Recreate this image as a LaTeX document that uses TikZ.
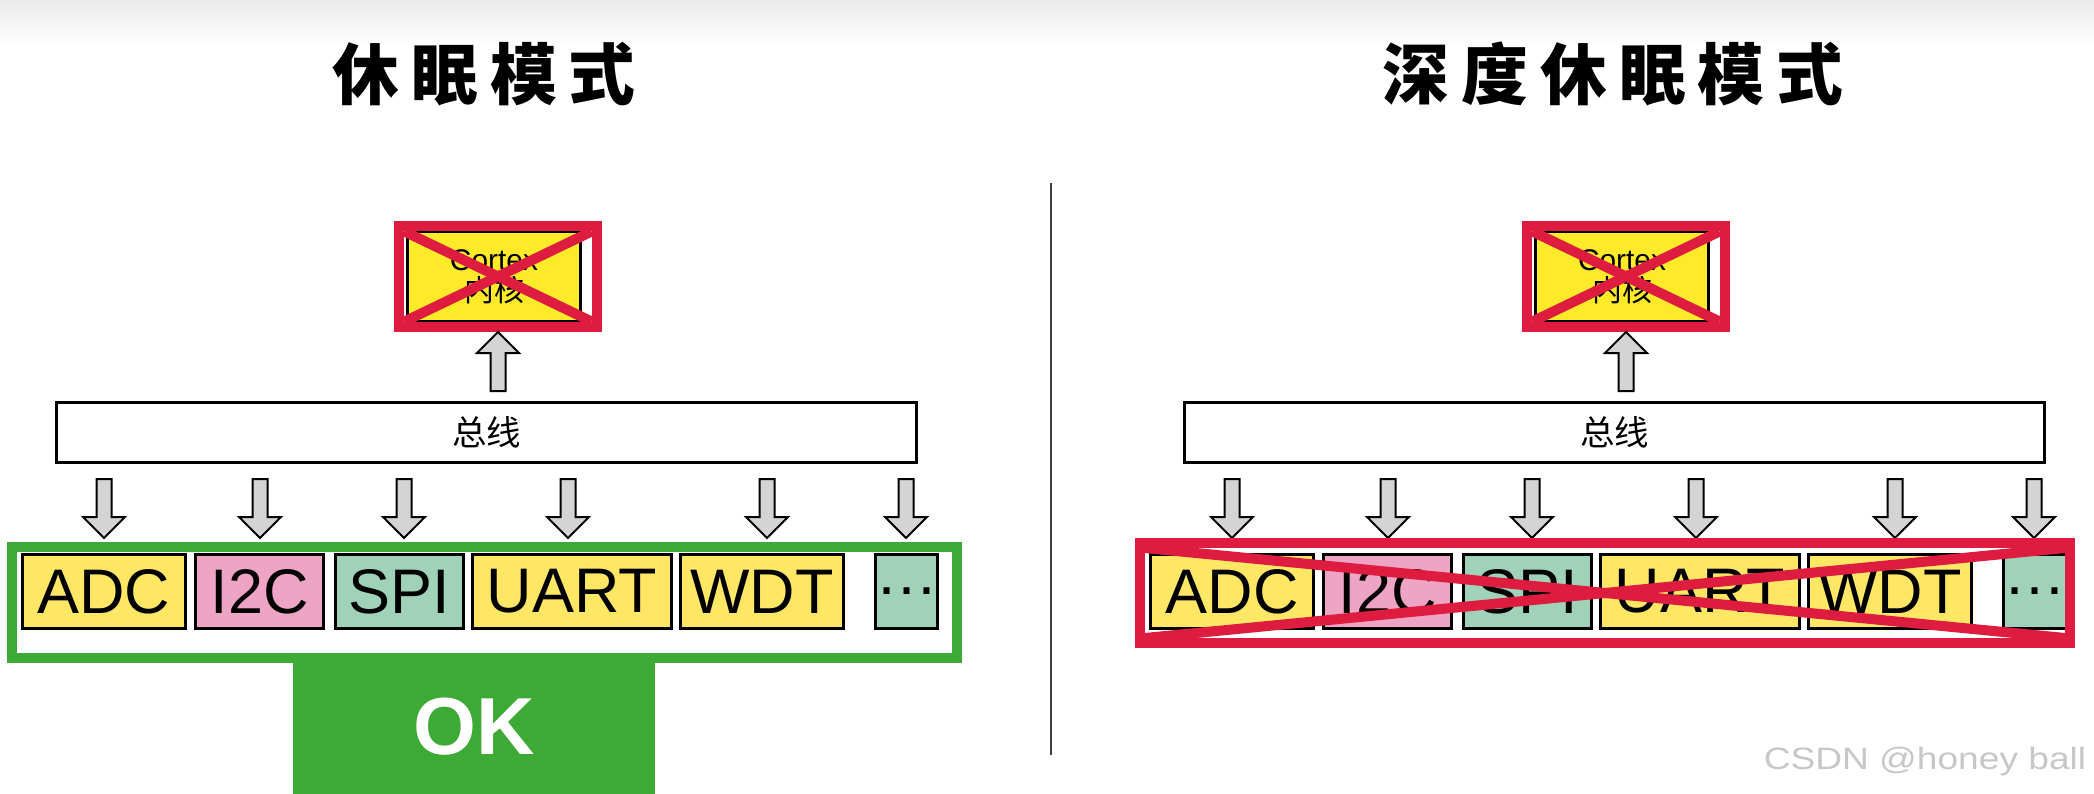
\documentclass[tikz,border=0pt]{standalone}
\usepackage{fontspec}
\setmainfont{Liberation Sans}
\newfontfamily\cjk{Noto Sans CJK SC}
\newfontfamily\cjktitle[LetterSpace=18]{Noto Sans CJK SC}
\usetikzlibrary{positioning}

\definecolor{coreyellow}{RGB}{255,234,42}
\definecolor{modyellow}{RGB}{255,231,102}
\definecolor{modpink}{RGB}{238,164,196}
\definecolor{modteal}{RGB}{160,210,186}
\definecolor{okgreen}{RGB}{62,170,54}
\definecolor{crossred}{RGB}{222,28,64}
\definecolor{arrowgray}{RGB}{212,212,212}

\begin{document}
\begin{tikzpicture}[x=0.01cm,y=-0.01cm,
    blockarrow/.pic={\draw[line width=0.02cm,fill=arrowgray] (-7.5,0) -- (7.5,0) -- (7.5,38) -- (21,38) -- (0,59) -- (-21,38) -- (-7.5,38) -- cycle;}]
  \tikzstyle{title}=[font=\cjktitle\bfseries\fontsize{19}{19}\selectfont]
  \tikzstyle{box}=[rectangle,draw,line width=0.03cm,inner sep=0pt,outer sep=0pt]
  \tikzstyle{module}=[box,minimum height=0.73cm,font=\fontsize{17.9}{18}\selectfont]
  \tikzstyle{bus}=[box,minimum width=8.59cm,minimum height=0.59cm,font=\cjk\fontsize{9.8}{10}\selectfont]
  \tikzstyle{core}=[box,fill=coreyellow,minimum width=1.72cm,minimum height=0.89cm,align=center,font=\fontsize{8.5}{8.8}\selectfont]
  \tikzstyle{frame}=[rectangle,draw,line width=0.1cm,outer sep=0pt,inner sep=0pt]
  \tikzstyle{cross}=[line width=0.1cm,color=crossred]

  \useasboundingbox (0,0) rectangle (2094,794);
  \fill[white] (0,0) rectangle (2094,794);
  \shade[top color=black!8,bottom color=white] (0,0) rectangle (2094,45);

  \node[title] (ltitle) at (484,74) {休眠模式};
  \node[title] (rtitle) at (1613,74) {深度休眠模式};
  \draw[line width=0.02cm,black!75] (1051,183) -- (1051,755);

  % both halves: core, bus, peripherals
  \foreach \s/\dx in {l/0,r/1128}{
    \node[core] (core\s) at (494+\dx,276.5) {Cortex\\{\cjk 内核}};
    \node[frame,draw=crossred,minimum width=1.97cm,minimum height=1.0cm] (corex\s) at (498+\dx,276.5) {};
    \draw[cross] ([shift={(5,5)}]corex\s.north west) -- ([shift={(-5,-5)}]corex\s.south east);
    \draw[cross] ([shift={(5,-5)}]corex\s.south west) -- ([shift={(-5,5)}]corex\s.north east);
    \pic[rotate=180] at (498+\dx,391) {blockarrow};

    \node[bus] (bus\s) at (486.5+\dx,432.5) {总线};
    \foreach \ax in {104,260,404,568,767,906}
      \pic at (\ax+\dx,479) {blockarrow};

    \foreach \m/\txt/\cx/\w/\col in {adc/ADC/104/1.62/modyellow, i2c/I2C/259.5/1.27/modpink,
        spi/SPI/399.5/1.27/modteal, uart/UART/572/1.98/modyellow, wdt/WDT/762/1.62/modyellow,
        more/…/906.5/0.55/modteal}
      \node[module,fill=\col,minimum width=\w cm] (\m\s) at (\cx+\dx,591.5) {\txt};
  }

  % sleep: peripherals still running
  \node[frame,draw=okgreen,minimum width=9.45cm,minimum height=1.11cm] (okframe) at (484.5,602.5) {};
  \node[fill=okgreen,minimum width=3.62cm,minimum height=1.34cm,inner sep=0pt,text=white,
        font=\bfseries\fontsize{23}{23}\selectfont] (ok) at (474,727) {OK};

  % deep sleep: everything off
  \node[frame,draw=crossred,minimum width=9.30cm,minimum height=1.0cm] (offframe) at (1605,593) {};
  \draw[cross] ([shift={(5,5)}]offframe.north west) -- ([shift={(-5,-5)}]offframe.south east);
  \draw[cross] ([shift={(5,-5)}]offframe.south west) -- ([shift={(-5,5)}]offframe.north east);

  \node[text=black!22,font=\fontsize{8.8}{9}\selectfont,xscale=1.2] (mark) at (1925,761) {CSDN @honey ball};
\end{tikzpicture}
\end{document}
